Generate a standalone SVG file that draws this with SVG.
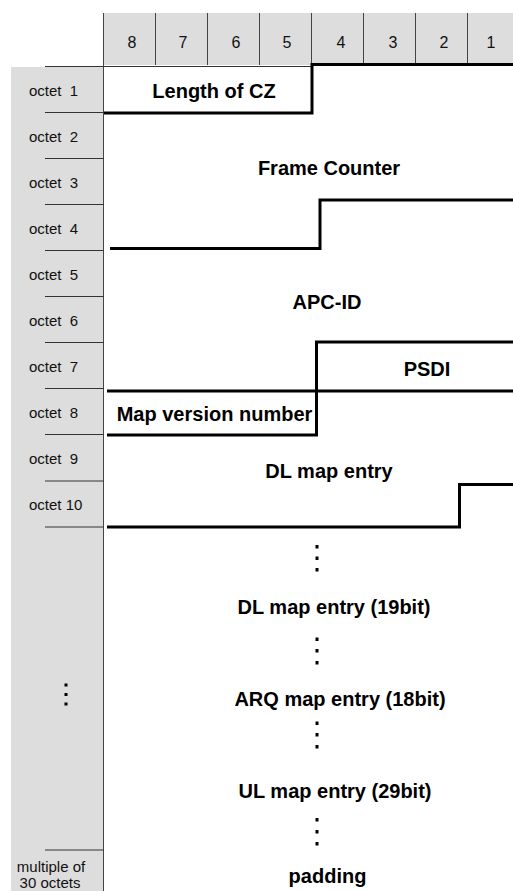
<svg xmlns="http://www.w3.org/2000/svg" width="513" height="891" viewBox="0 0 513 891">
  <style>
    .bg { fill: #dddddd; }
    .thin { stroke: #333333; stroke-width: 1; fill: none; }
    .grid { stroke: #444444; stroke-width: 1; fill: none; }
    .thick { stroke: #000000; stroke-width: 3; fill: none; stroke-linejoin: miter; }
    .lbl { font-family: "Liberation Sans", Arial, sans-serif; font-size: 15px; fill: #111111; white-space: pre; }
    .num { font-family: "Liberation Sans", Arial, sans-serif; font-size: 16px; fill: #111111; text-anchor: middle; }
    .fld { font-family: "Liberation Sans", Arial, sans-serif; font-size: 20px; font-weight: bold; fill: #000000; text-anchor: middle; }
    .dot { fill: #000000; }
  </style>
  <rect width="513" height="891" fill="#ffffff"/>

  <g id="header">
    <rect class="bg" x="103.5" y="13" width="409.5" height="52"/>
    <g class="grid">
      <line x1="103.5" y1="13" x2="103.5" y2="66"/>
      <line x1="155.5" y1="13" x2="155.5" y2="65"/>
      <line x1="207.5" y1="13" x2="207.5" y2="65"/>
      <line x1="259.5" y1="13" x2="259.5" y2="65"/>
      <line x1="311.5" y1="13" x2="311.5" y2="65"/>
      <line x1="363.5" y1="13" x2="363.5" y2="65"/>
      <line x1="415.5" y1="13" x2="415.5" y2="65"/>
      <line x1="467.5" y1="13" x2="467.5" y2="65"/>
    </g>
    <text class="num" x="132" y="48">8</text>
    <text class="num" x="183" y="48">7</text>
    <text class="num" x="236" y="48">6</text>
    <text class="num" x="287" y="48">5</text>
    <text class="num" x="341" y="48">4</text>
    <text class="num" x="393" y="48">3</text>
    <text class="num" x="444" y="48">2</text>
    <text class="num" x="491" y="48">1</text>
  </g>

  <g id="octet-column">
    <rect class="bg" x="11" y="67" width="92.5" height="824"/>
    <line class="grid" x1="103.5" y1="66" x2="103.5" y2="891"/>
    <g class="thin">
      <line x1="45" y1="66.5" x2="103.5" y2="66.5"/>
      <line x1="45" y1="112.5" x2="103.5" y2="112.5"/>
      <line x1="45" y1="158.5" x2="103.5" y2="158.5"/>
      <line x1="45" y1="204.5" x2="103.5" y2="204.5"/>
      <line x1="45" y1="250.5" x2="103.5" y2="250.5"/>
      <line x1="45" y1="296.5" x2="103.5" y2="296.5"/>
      <line x1="45" y1="342.5" x2="103.5" y2="342.5"/>
      <line x1="45" y1="388.5" x2="103.5" y2="388.5"/>
      <line x1="45" y1="434.5" x2="103.5" y2="434.5"/>
      <line x1="45" y1="481" x2="103.5" y2="481"/>
      <line x1="45" y1="527" x2="103.5" y2="527"/>
      <line x1="45" y1="850" x2="103.5" y2="850"/>
    </g>
    <text class="lbl" xml:space="preserve" x="29" y="96">octet  1</text>
    <text class="lbl" xml:space="preserve" x="29" y="142">octet  2</text>
    <text class="lbl" xml:space="preserve" x="29" y="188">octet  3</text>
    <text class="lbl" xml:space="preserve" x="29" y="234">octet  4</text>
    <text class="lbl" xml:space="preserve" x="29" y="280">octet  5</text>
    <text class="lbl" xml:space="preserve" x="29" y="326">octet  6</text>
    <text class="lbl" xml:space="preserve" x="29" y="372">octet  7</text>
    <text class="lbl" xml:space="preserve" x="29" y="418">octet  8</text>
    <text class="lbl" xml:space="preserve" x="29" y="464">octet  9</text>
    <text class="lbl" x="29" y="510">octet 10</text>
    <rect class="dot" x="64.5" y="683.5" width="3" height="3"/>
    <rect class="dot" x="64.5" y="693" width="3" height="3"/>
    <rect class="dot" x="64.5" y="702.5" width="3" height="3"/>
    <text class="lbl" x="51" y="872" text-anchor="middle">multiple of</text>
    <text class="lbl" x="50" y="887.5" text-anchor="middle">30 octets</text>
  </g>

  <g id="connectors">
    <line class="thin" x1="103.5" y1="66.5" x2="312" y2="66.5"/>
    <polyline class="thick" points="513,64.5 312,64.5 312,113 104,113"/>
    <polyline class="thick" points="513,200 320,200 320,248.5 110,248.5"/>
    <polyline class="thick" points="513,342 316.5,342 316.5,435 107,435"/>
    <line class="thick" x1="107" y1="391" x2="513" y2="391"/>
    <polyline class="thick" points="513,484.5 459.5,484.5 459.5,527 107,527"/>
  </g>

  <g id="field-length-of-cz">
    <text class="fld" x="214" y="97.5">Length of CZ</text>
  </g>
  <g id="field-frame-counter">
    <text class="fld" x="329" y="175">Frame Counter</text>
  </g>
  <g id="field-apc-id">
    <text class="fld" x="327" y="309">APC-ID</text>
  </g>
  <g id="field-psdi">
    <text class="fld" x="427" y="376">PSDI</text>
  </g>
  <g id="field-map-version">
    <text class="fld" x="214.5" y="420.5">Map version number</text>
  </g>
  <g id="field-dl-map-entry">
    <text class="fld" x="329" y="478">DL map entry</text>
  </g>
  <g id="field-dl-map-entry-19">
    <rect class="dot" x="315.5" y="545" width="3" height="3.5"/>
    <rect class="dot" x="315.5" y="556.5" width="3" height="3.5"/>
    <rect class="dot" x="315.5" y="568" width="3" height="3.5"/>
    <text class="fld" x="334" y="614">DL map entry (19bit)</text>
  </g>
  <g id="field-arq-map-entry">
    <rect class="dot" x="315.5" y="637.5" width="3" height="3.5"/>
    <rect class="dot" x="315.5" y="649" width="3" height="3.5"/>
    <rect class="dot" x="315.5" y="661" width="3" height="3.5"/>
    <text class="fld" x="340" y="705.5">ARQ map entry (18bit)</text>
  </g>
  <g id="field-ul-map-entry">
    <rect class="dot" x="315.5" y="721.5" width="3" height="3.5"/>
    <rect class="dot" x="315.5" y="733" width="3" height="3.5"/>
    <rect class="dot" x="315.5" y="745" width="3" height="3.5"/>
    <text class="fld" x="335" y="798">UL map entry (29bit)</text>
  </g>
  <g id="field-padding">
    <rect class="dot" x="315.5" y="818" width="3" height="3.5"/>
    <rect class="dot" x="315.5" y="830" width="3" height="3.5"/>
    <rect class="dot" x="315.5" y="842" width="3" height="3.5"/>
    <text class="fld" x="327.5" y="883">padding</text>
  </g>
</svg>
